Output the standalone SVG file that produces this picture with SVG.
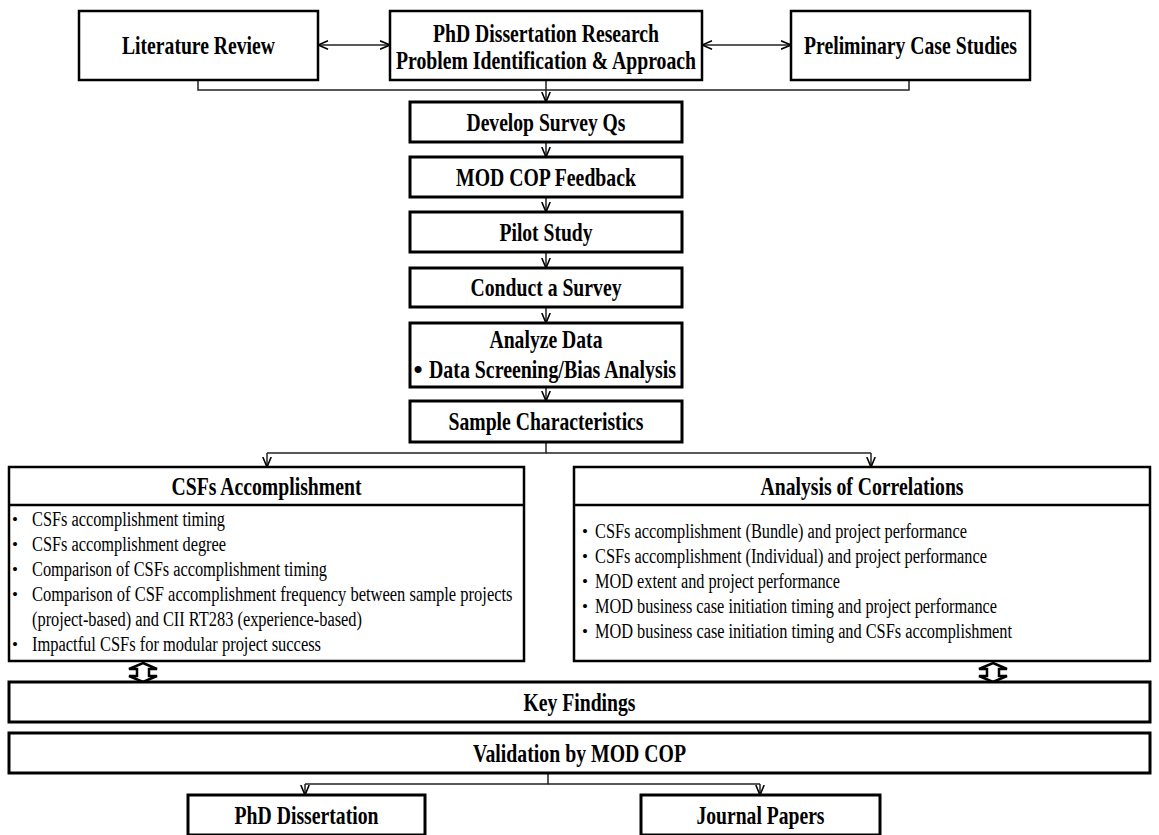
<svg xmlns="http://www.w3.org/2000/svg" width="1159" height="835" viewBox="0 0 1159 835">
<style>
.b{font-family:"Liberation Serif","Times New Roman",serif;font-weight:bold;font-size:26px;text-anchor:middle;fill:#000}
.r{font-family:"Liberation Serif","Times New Roman",serif;font-size:20px;fill:#000}
.bul{font-family:"Liberation Serif","Times New Roman",serif;font-size:17px;fill:#000}
.box{fill:#fff;stroke:#000;stroke-width:3}
.tbox{fill:#fff;stroke:#000;stroke-width:2.5}
.conn{fill:none;stroke:#222;stroke-width:1.5}
.blk{fill:#fff;stroke:#000;stroke-width:2.5;stroke-linejoin:miter}
</style>
<defs>
<marker id="v" viewBox="0 0 10 10" refX="10" refY="5" markerWidth="11" markerHeight="10" markerUnits="userSpaceOnUse" orient="auto-start-reverse">
<path d="M0,0.8 L10,5 L0,9.2" fill="none" stroke="#000" stroke-width="1.6"/>
</marker>
</defs>
<rect width="1159" height="835" fill="#fff"/>

<g id="connectors">
<line class="conn" x1="318" y1="45" x2="390" y2="45" marker-start="url(#v)" marker-end="url(#v)"/>
<line class="conn" x1="702" y1="45" x2="791" y2="45" marker-start="url(#v)" marker-end="url(#v)"/>
<polyline class="conn" points="198,80 198,90 909,90 909,80" stroke="#444"/>
<line class="conn" x1="546" y1="80" x2="546" y2="102" marker-end="url(#v)"/>
<line class="conn" x1="546" y1="142" x2="546" y2="157" marker-end="url(#v)"/>
<line class="conn" x1="546" y1="197" x2="546" y2="212" marker-end="url(#v)"/>
<line class="conn" x1="546" y1="252" x2="546" y2="268" marker-end="url(#v)"/>
<line class="conn" x1="546" y1="307" x2="546" y2="323" marker-end="url(#v)"/>
<line class="conn" x1="546" y1="387" x2="546" y2="401" marker-end="url(#v)"/>
<polyline class="conn" points="546,442 546,453 267,453"/>
<polyline class="conn" points="546,453 871,453"/>
<line class="conn" x1="267" y1="453" x2="267" y2="467" marker-end="url(#v)"/>
<line class="conn" x1="871" y1="453" x2="871" y2="467" marker-end="url(#v)"/>
<polygon class="blk" points="143,663 157,669 149,669 149,676 157,676 143,682 129,676 137,676 137,669 129,669"/>
<polygon class="blk" points="993,663 1007,669 999,669 999,676 1007,676 993,682 979,676 987,676 987,669 979,669"/>
<polyline class="conn" points="548,773 548,784 305,784"/>
<polyline class="conn" points="548,784 760,784"/>
<line class="conn" x1="305" y1="784" x2="305" y2="795" marker-end="url(#v)"/>
<line class="conn" x1="760" y1="784" x2="760" y2="795" marker-end="url(#v)"/>
</g>

<g id="lit-review">
<rect class="tbox" x="79" y="11" width="239" height="69"/>
<text class="b" x="198.5" y="54" textLength="153" lengthAdjust="spacingAndGlyphs">Literature Review</text>
</g>
<g id="phd-research">
<rect class="tbox" x="390" y="11" width="312" height="69"/>
<text class="b" x="546" y="42" textLength="226" lengthAdjust="spacingAndGlyphs">PhD Dissertation Research</text>
<text class="b" x="546" y="69" textLength="300" lengthAdjust="spacingAndGlyphs">Problem Identification &amp; Approach</text>
</g>
<g id="prelim-case">
<rect class="tbox" x="791" y="11" width="239" height="69"/>
<text class="b" x="910.5" y="54" textLength="213" lengthAdjust="spacingAndGlyphs">Preliminary Case Studies</text>
</g>

<g id="develop">
<rect class="box" x="410" y="102" width="272" height="40"/>
<text class="b" x="546" y="131" textLength="159" lengthAdjust="spacingAndGlyphs">Develop Survey Qs</text>
</g>
<g id="mod-feedback">
<rect class="box" x="410" y="157" width="272" height="40"/>
<text class="b" x="546" y="186" textLength="180" lengthAdjust="spacingAndGlyphs">MOD COP Feedback</text>
</g>
<g id="pilot">
<rect class="box" x="410" y="212" width="272" height="40"/>
<text class="b" x="546" y="241" textLength="93" lengthAdjust="spacingAndGlyphs">Pilot Study</text>
</g>
<g id="conduct">
<rect class="box" x="410" y="268" width="272" height="39"/>
<text class="b" x="546" y="296" textLength="151" lengthAdjust="spacingAndGlyphs">Conduct a Survey</text>
</g>
<g id="analyze">
<rect class="box" x="410" y="323" width="272" height="64"/>
<text class="b" x="546" y="348" textLength="113" lengthAdjust="spacingAndGlyphs">Analyze Data</text>
<text class="b" x="418" y="378">•</text>
<text class="b" x="429" y="378" style="text-anchor:start" textLength="247" lengthAdjust="spacingAndGlyphs">Data Screening/Bias Analysis</text>
</g>
<g id="sample">
<rect class="box" x="410" y="401" width="272" height="41"/>
<text class="b" x="546" y="430" textLength="195" lengthAdjust="spacingAndGlyphs">Sample Characteristics</text>
</g>

<g id="csfs">
<rect class="tbox" x="9" y="467" width="515" height="194"/>
<line x1="9" y1="505" x2="524" y2="505" stroke="#000" stroke-width="2.5"/>
<text class="b" x="266.5" y="495" textLength="190" lengthAdjust="spacingAndGlyphs">CSFs Accomplishment</text>
<text class="bul" x="12" y="525">•</text>
<text class="r" x="32" y="526" textLength="193" lengthAdjust="spacingAndGlyphs">CSFs accomplishment timing</text>
<text class="bul" x="12" y="550">•</text>
<text class="r" x="32" y="551" textLength="194" lengthAdjust="spacingAndGlyphs">CSFs accomplishment degree</text>
<text class="bul" x="12" y="575">•</text>
<text class="r" x="32" y="576" textLength="295" lengthAdjust="spacingAndGlyphs">Comparison of CSFs accomplishment timing</text>
<text class="bul" x="12" y="600">•</text>
<text class="r" transform="matrix(0.825,0,0,1,32,601)" x="0" y="0">Comparison of CSF accomplishment frequency between sample projects</text>
<text class="r" x="32" y="626" textLength="330" lengthAdjust="spacingAndGlyphs">(project-based) and CII RT283 (experience-based)</text>
<text class="bul" x="12" y="650">•</text>
<text class="r" x="32" y="651" textLength="289" lengthAdjust="spacingAndGlyphs">Impactful CSFs for modular project success</text>
</g>

<g id="correlations">
<rect class="tbox" x="574" y="467" width="576" height="194"/>
<line x1="574" y1="505" x2="1150" y2="505" stroke="#000" stroke-width="2.5"/>
<text class="b" x="862" y="495" textLength="203" lengthAdjust="spacingAndGlyphs">Analysis of Correlations</text>
<text class="bul" x="582" y="537">•</text>
<text class="r" x="595" y="538" textLength="372" lengthAdjust="spacingAndGlyphs">CSFs accomplishment (Bundle) and project performance</text>
<text class="bul" x="582" y="562">•</text>
<text class="r" x="595" y="563" textLength="392" lengthAdjust="spacingAndGlyphs">CSFs accomplishment (Individual) and project performance</text>
<text class="bul" x="582" y="587">•</text>
<text class="r" x="595" y="588" textLength="245" lengthAdjust="spacingAndGlyphs">MOD extent and project performance</text>
<text class="bul" x="582" y="612">•</text>
<text class="r" x="595" y="613" textLength="402" lengthAdjust="spacingAndGlyphs">MOD business case initiation timing and project performance</text>
<text class="bul" x="582" y="637">•</text>
<text class="r" x="595" y="638" textLength="417" lengthAdjust="spacingAndGlyphs">MOD business case initiation timing and CSFs accomplishment</text>
</g>

<g id="key-findings">
<rect class="box" x="9" y="682" width="1141" height="40"/>
<text class="b" x="579.5" y="711" textLength="112" lengthAdjust="spacingAndGlyphs">Key Findings</text>
</g>
<g id="validation">
<rect class="box" x="9" y="733" width="1141" height="40"/>
<text class="b" x="579.5" y="762" textLength="213" lengthAdjust="spacingAndGlyphs">Validation by MOD COP</text>
</g>
<g id="phd-dissertation">
<rect class="box" x="188" y="795" width="237" height="40"/>
<text class="b" x="306.5" y="824" textLength="144" lengthAdjust="spacingAndGlyphs">PhD Dissertation</text>
</g>
<g id="journal-papers">
<rect class="box" x="641" y="795" width="239" height="40"/>
<text class="b" x="760.5" y="824" textLength="128" lengthAdjust="spacingAndGlyphs">Journal Papers</text>
</g>
</svg>
